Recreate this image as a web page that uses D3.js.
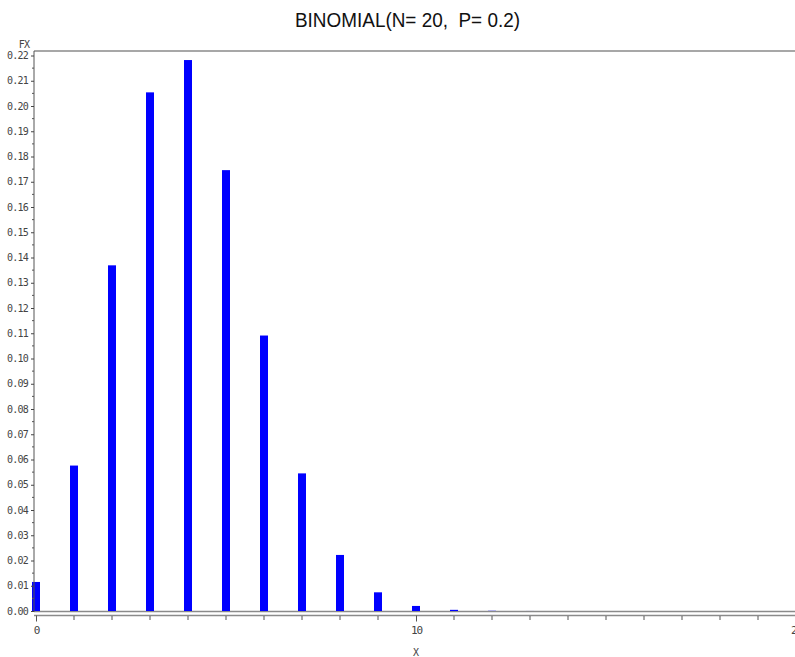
<!DOCTYPE html>
<html><head><meta charset="utf-8">
<script src="https://cdn.jsdelivr.net/npm/d3@7"></script>
<style>body{margin:0;background:#fff;}svg{display:block;}</style>
</head><body><div id="chart"></div>
<script>
const xs = [0,1,2,3,4,5,6,7,8,9,10,11,12,13,14,15,16,17,18,19,20];
const fx = [0.0115,0.0576,0.1369,0.2054,0.2182,0.1746,0.1091,0.0545,0.0222,0.0074,0.0020,0.00046,0.000087,0.000013,0.0000017,0.0000002,0,0,0,0,0];
const yTicks = [0,0.01,0.02,0.03,0.04,0.05,0.06,0.07,0.08,0.09,0.10,0.11,0.12,0.13,0.14,0.15,0.16,0.17,0.18,0.19,0.20,0.21,0.22];
const xTicks = [0,10,20];
const title = "BINOMIAL(N= 20,  P= 0.2)";

const W = 795, H = 657;
const svg = d3.select("#chart").append("svg").attr("width", W).attr("height", H);
const x = d3.scaleLinear().domain([0,20]).range([36,796]);
const y = d3.scaleLinear().domain([0,0.22]).range([611,55.5]);

svg.append("text").attr("x",295).attr("y",27)
  .attr("font-family","Liberation Sans, Arial, sans-serif").attr("font-size",20)
  .attr("textLength",225).attr("lengthAdjust","spacingAndGlyphs")
  .style("white-space","pre").attr("xml:space","preserve")
  .attr("fill","#111").text(title);

// frame lines
svg.append("line").attr("x1",34).attr("x2",W).attr("y1",51).attr("y2",51).attr("stroke","#8a8a8a").attr("stroke-width",1.5);
svg.append("line").attr("x1",34).attr("x2",W).attr("y1",611.5).attr("y2",611.5).attr("stroke","#8a8a8a").attr("stroke-width",1.5);

// bars
svg.append("g").selectAll("rect").data(xs.map((d,i)=>({x:d,v:fx[i]}))).join("rect")
  .attr("x", d=>x(d.x)-4).attr("width",8)
  .attr("y", d=>y(d.v)).attr("height", d=>Math.max(0, y(0)-y(d.v)))
  .attr("fill","#0000ff");

// y axis
const yAxis = d3.axisLeft(y).tickValues(yTicks).tickFormat(d3.format(".2f")).tickSize(3).tickPadding(3);
const gy = svg.append("g").attr("transform","translate(34,0)").call(yAxis);
gy.select(".domain").attr("stroke","#555").attr("d","M0,51V612");
gy.selectAll(".tick line").attr("stroke","#444");
gy.selectAll("text").attr("font-family","DejaVu Sans Mono, monospace").attr("font-size",10).attr("fill","#444").attr("letter-spacing","-0.8");
// minor y ticks
const yMinor = yTicks.slice(0,-1).map((d,i)=>+(d+0.005).toFixed(3));
svg.append("g").selectAll("line").data(yMinor).join("line")
  .attr("x1",32).attr("x2",34).attr("y1",d=>y(d)).attr("y2",d=>y(d)).attr("stroke","#555");
svg.append("text").attr("x",24).attr("y",48).attr("text-anchor","middle")
  .attr("font-family","DejaVu Sans Mono, monospace").attr("font-size",10).attr("fill","#444").attr("letter-spacing","-0.8").text("FX");

// x axis
const xAxis = d3.axisBottom(x).tickValues(xTicks).tickFormat(d3.format("d")).tickSize(6).tickPadding(5);
const gx = svg.append("g").attr("transform","translate(0,615.5)").call(xAxis);
gx.select(".domain").attr("stroke","#8a8a8a").attr("stroke-width",1.5).attr("d","M34,0H"+W);
gx.selectAll(".tick line").attr("stroke","#555");
gx.selectAll("text").attr("font-family","DejaVu Sans Mono, monospace").attr("font-size",11).attr("fill","#444").attr("letter-spacing","-1");
svg.append("g").selectAll("line").data(xs.filter(d=>d%10!==0)).join("line")
  .attr("x1",d=>x(d)).attr("x2",d=>x(d)).attr("y1",616).attr("y2",620).attr("stroke","#555");
svg.append("text").attr("x",x(10)).attr("y",656).attr("text-anchor","middle")
  .attr("font-family","DejaVu Sans Mono, monospace").attr("font-size",10).attr("fill","#444").text("X");
</script></body></html>
